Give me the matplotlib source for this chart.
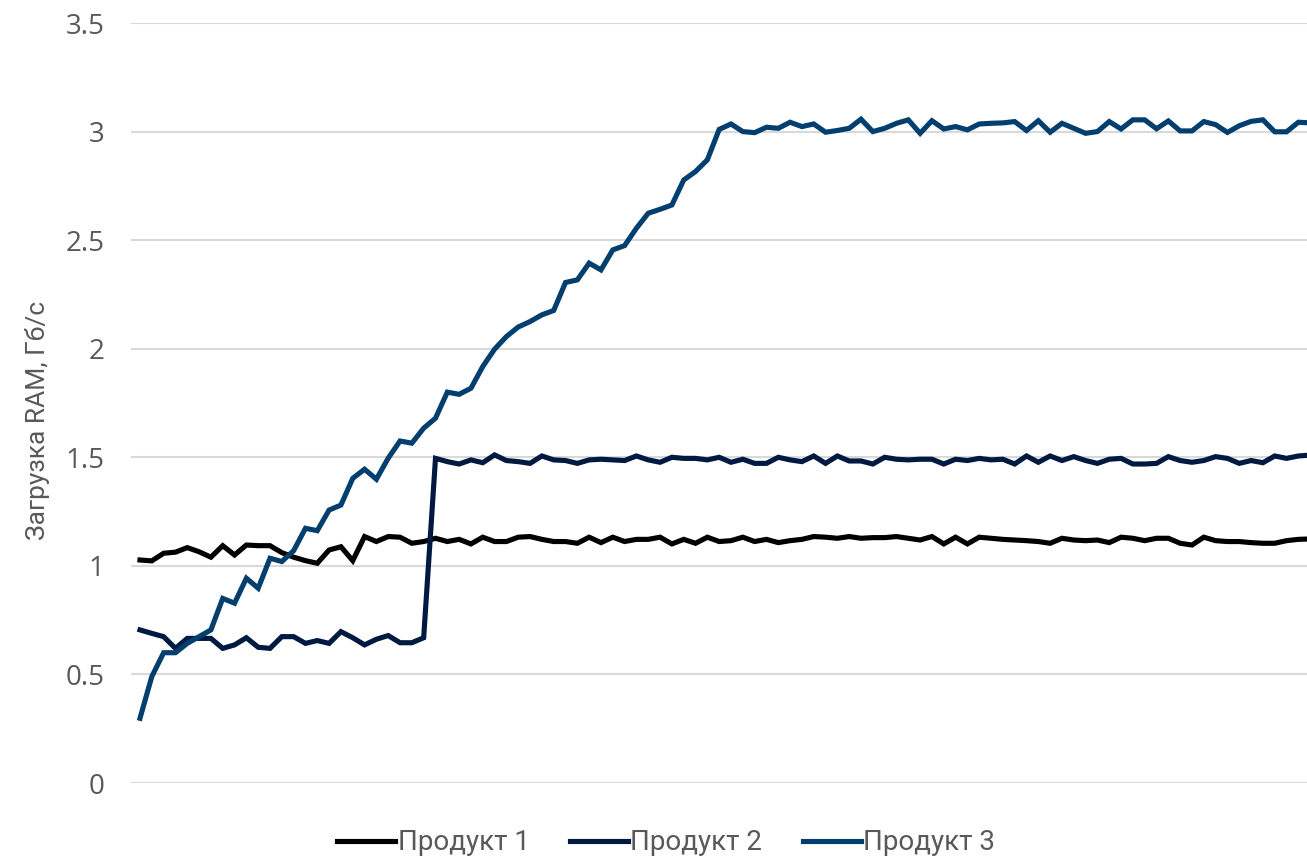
import matplotlib
matplotlib.use('Agg')
import matplotlib.pyplot as plt
import numpy as np

# RAM load per sample, three products (100 samples each)
product_1 = [
  1.027, 1.023, 1.058, 1.063, 1.084, 1.065, 1.040, 1.093, 1.050, 1.096,
  1.093, 1.093, 1.061, 1.040, 1.024, 1.012, 1.073, 1.088, 1.024, 1.135,
  1.112, 1.135, 1.132, 1.104, 1.112, 1.127, 1.112, 1.122, 1.101, 1.132,
  1.112, 1.112, 1.132, 1.135, 1.122, 1.112, 1.112, 1.104, 1.132, 1.107,
  1.132, 1.112, 1.122, 1.122, 1.132, 1.101, 1.122, 1.104, 1.132, 1.112,
  1.116, 1.132, 1.112, 1.122, 1.107, 1.116, 1.122, 1.135, 1.132, 1.127,
  1.135, 1.127, 1.130, 1.130, 1.135, 1.127, 1.119, 1.135, 1.101, 1.132,
  1.101, 1.132, 1.127, 1.122, 1.119, 1.116, 1.112, 1.104, 1.127, 1.119,
  1.116, 1.119, 1.107, 1.132, 1.127, 1.116, 1.127, 1.127, 1.104, 1.096,
  1.132, 1.116, 1.112, 1.112, 1.107, 1.104, 1.104, 1.116, 1.122, 1.124,
]
product_2 = [
  0.705, 0.689, 0.674, 0.620, 0.666, 0.666, 0.666, 0.620, 0.636, 0.669,
  0.625, 0.620, 0.674, 0.674, 0.643, 0.656, 0.643, 0.697, 0.669, 0.636,
  0.662, 0.679, 0.646, 0.646, 0.669, 1.495, 1.480, 1.469, 1.488, 1.475,
  1.511, 1.485, 1.480, 1.472, 1.506, 1.488, 1.485, 1.472, 1.488, 1.491,
  1.488, 1.485, 1.506, 1.488, 1.477, 1.500, 1.495, 1.495, 1.488, 1.500,
  1.477, 1.491, 1.472, 1.472, 1.500, 1.488, 1.480, 1.506, 1.472, 1.506,
  1.483, 1.483, 1.469, 1.500, 1.491, 1.488, 1.491, 1.491, 1.469, 1.491,
  1.485, 1.495, 1.488, 1.491, 1.469, 1.506, 1.477, 1.506, 1.485, 1.503,
  1.485, 1.472, 1.491, 1.495, 1.469, 1.469, 1.472, 1.503, 1.485, 1.477,
  1.485, 1.503, 1.495, 1.472, 1.485, 1.475, 1.506, 1.495, 1.506, 1.510,
]
product_3 = [
  0.298, 0.490, 0.600, 0.600, 0.643, 0.674, 0.705, 0.850, 0.828, 0.943,
  0.897, 1.035, 1.020, 1.070, 1.173, 1.162, 1.257, 1.280, 1.403, 1.445,
  1.399, 1.496, 1.575, 1.565, 1.634, 1.680, 1.800, 1.790, 1.818, 1.918,
  1.998, 2.056, 2.100, 2.125, 2.156, 2.176, 2.305, 2.317, 2.394, 2.363,
  2.455, 2.475, 2.555, 2.624, 2.642, 2.662, 2.777, 2.816, 2.870, 3.010,
  3.035, 3.000, 2.995, 3.020, 3.015, 3.043, 3.023, 3.035, 2.997, 3.005,
  3.015, 3.057, 3.000, 3.015, 3.038, 3.054, 2.992, 3.050, 3.012, 3.023,
  3.008, 3.035, 3.038, 3.040, 3.046, 3.005, 3.050, 2.997, 3.038, 3.015,
  2.992, 3.000, 3.046, 3.012, 3.054, 3.054, 3.013, 3.049, 3.003, 3.003,
  3.046, 3.032, 2.996, 3.027, 3.047, 3.054, 2.999, 2.999, 3.043, 3.040,
]
labels = ['Продукт 1', 'Продукт 2', 'Продукт 3']
colors = ['#000000', '#001941', '#023f6f']
y_ticks = [0, 0.5, 1, 1.5, 2, 2.5, 3, 3.5]
y_ticklabels = ['0', '0.5', '1', '1.5', '2', '2.5', '3', '3.5']

W, H = 1307, 859
fig = plt.figure(figsize=(W / 100, H / 100), dpi=100)
# plot area in pixels: left edge 131, runs past the right border of the figure
ax = fig.add_axes([131 / W, 76 / H, 1 - 131 / W, 760 / H])

x = np.arange(len(product_1))
for series, lab, col in zip([product_1, product_2, product_3], labels, colors):
  ax.plot(x, series, color=col, lw=3.7, label=lab, solid_joinstyle='miter')

ax.set_xlim(-0.76, 98.73)
ax.set_ylim(0, 3.5)
ax.set_yticks(y_ticks)
ax.set_yticklabels(y_ticklabels, family=['Open Sans', 'DejaVu Sans'], fontsize=20, color='#595959')
ax.set_xticks([])
ax.tick_params(axis='y', length=0, pad=19)
ax.grid(axis='y', color='#d9d9d9', lw=1.5)
ax.set_axisbelow(True)
for s in ax.spines.values():
  s.set_visible(False)

fig.text(38 / W, 1 - 420 / H, 'Загрузка RAM, Гб/с', rotation=90, ha='center', va='center',
         fontsize=19, color='#595959', family=['Liberation Sans Narrow', 'Roboto', 'DejaVu Sans'])

leg = fig.legend(loc='center', bbox_to_anchor=(666 / W, 16 / H), ncol=3, frameon=False,
                 handlelength=2.1, handletextpad=0.08, columnspacing=1.45,
                 prop={'family': ['Liberation Sans Narrow', 'Roboto', 'DejaVu Sans'], 'size': 20})
for t in leg.get_texts():
  t.set_color('#595959')

fig.savefig('out.png', dpi=100)
